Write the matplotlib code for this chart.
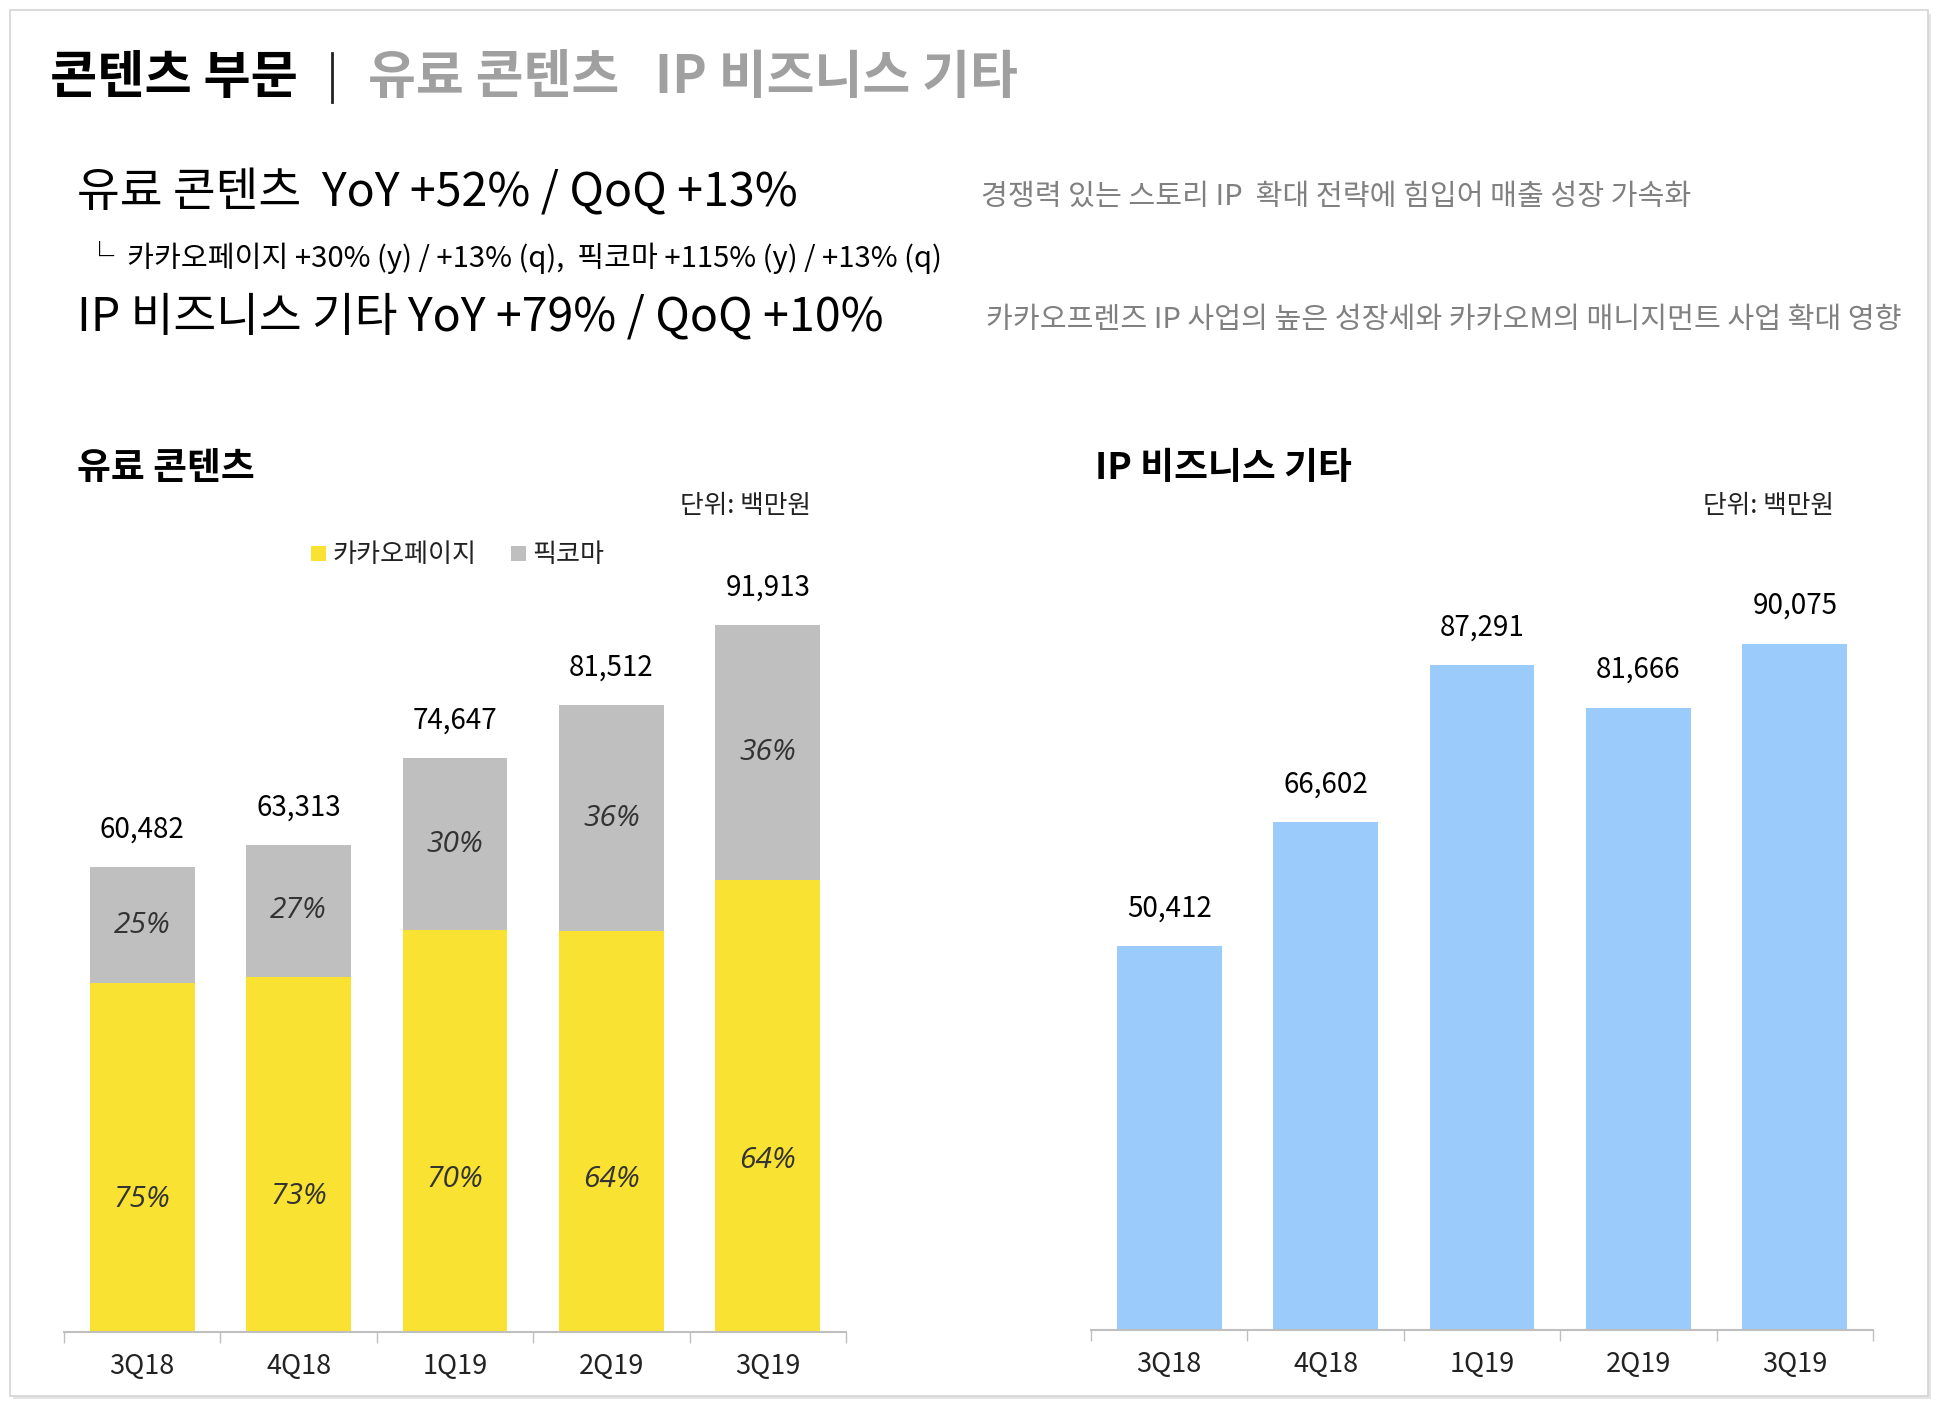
import matplotlib.pyplot as plt
from matplotlib.patches import Rectangle

plt.rcParams['font.family'] = ['Noto Sans CJK KR', 'DejaVu Sans']

# data
quarters = ['3Q18', '4Q18', '1Q19', '2Q19', '3Q19']
paid_total = [60482, 63313, 74647, 81512, 91913]
kakaopage_pct = [75, 73, 70, 64, 64]
piccoma_pct = [25, 27, 30, 36, 36]
ip_biz = [50412, 66602, 87291, 81666, 90075]

kakaopage = [t * p / 100 for t, p in zip(paid_total, kakaopage_pct)]
piccoma = [t - k for t, k in zip(paid_total, kakaopage)]

YELLOW = '#F9E232'
GRAY = '#BFBFBF'
BLUE = '#9BCBFB'
ITALIC = ['Open Sans', 'DejaVu Sans']

W, H = 1938, 1404
fig = plt.figure(figsize=(W / 100, H / 100), dpi=100)


def fx(x):
    return x / W


def fy(y):
    return 1 - y / H


def txt(x, y, s, **kw):
    fig.text(fx(x), fy(y), s, va='center', ha=kw.pop('ha', 'left'), **kw)


# frame
fig.patches.append(Rectangle((fx(13), fy(1399)), fx(1918), 1385 / H, transform=fig.transFigure,
                             facecolor='#e4e4e4', edgecolor='none', zorder=-2))
fig.patches.append(Rectangle((fx(10), fy(1396)), fx(1918), 1386 / H, transform=fig.transFigure,
                             facecolor='white', edgecolor='#d4d4d4', lw=1.2, zorder=-1))

# header
txt(50, 77, '콘텐츠 부문', fontsize=37, fontweight='bold', color='black')
fig.lines.append(plt.Line2D([fx(332), fx(332)], [fy(53), fy(102)], transform=fig.transFigure,
                            color='#222222', lw=2))
txt(368, 77, '유료 콘텐츠   IP 비즈니스 기타', fontsize=37.5, fontweight='bold', color='#A0A0A0')

txt(77, 193, '유료 콘텐츠  YoY +52% / QoQ +13%', fontsize=33.5, fontweight='light', color='black')
txt(85, 258, '└  카카오페이지 +30% (y) / +13% (q),  픽코마 +115% (y) / +13% (q)',
    fontsize=21, fontweight='light', color='black')
txt(77, 317, 'IP 비즈니스 기타 YoY +79% / QoQ +10%', fontsize=33.5, fontweight='light', color='black')

txt(981, 197, '경쟁력 있는 스토리 IP  확대 전략에 힘입어 매출 성장 가속화', fontsize=21,
    fontweight='light', color='#808080')
txt(986, 320, '카카오프렌즈 IP 사업의 높은 성장세와 카카오M의 매니지먼트 사업 확대 영향', fontsize=21,
    fontweight='light', color='#808080')

# subtitles
txt(77, 469, '유료 콘텐츠', fontsize=26.5, fontweight='bold', color='black')
txt(1095, 469, 'IP 비즈니스 기타', fontsize=26.5, fontweight='bold', color='black')
txt(811, 506, '단위: 백만원', fontsize=18.5, ha='right', color='#222222')
txt(1834, 506, '단위: 백만원', fontsize=18.5, ha='right', color='#222222')

# legend
fig.patches.append(Rectangle((fx(311), fy(561)), 15 / W, 15 / H, transform=fig.transFigure,
                             facecolor=YELLOW, edgecolor='none'))
txt(332, 554, '카카오페이지', fontsize=18.8, color='#222222')
fig.patches.append(Rectangle((fx(511), fy(561)), 15 / W, 15 / H, transform=fig.transFigure,
                             facecolor=GRAY, edgecolor='none'))
txt(532, 554, '픽코마', fontsize=18.8, color='#222222')


def setup(ax):
    ax.set_xlim(-0.5, 4.5)
    for s in ['top', 'right', 'left']:
        ax.spines[s].set_visible(False)
    ax.spines['bottom'].set_color('#BFBFBF')
    ax.spines['bottom'].set_linewidth(1.5)
    ax.set_yticks([])
    ax.set_xticks([i - 0.5 for i in range(6)], minor=False)
    ax.set_xticklabels([])
    ax.tick_params(axis='x', which='major', length=8, color='#BFBFBF', width=1)
    ax.set_xticks(range(5), minor=True)
    ax.set_xticklabels(quarters, minor=True, fontsize=19.5, color='#222222')
    ax.tick_params(axis='x', which='minor', length=0, pad=15)
    ax.patch.set_alpha(0)


x = range(5)

# left chart
ax1 = fig.add_axes([fx(64), fy(1332), (846 - 64) / W, (1332 - 440) / H])
setup(ax1)
ax1.set_ylim(0, (1332 - 440) / (706.6 / 91913))
ax1.bar(x, kakaopage, width=0.67, color=YELLOW)
ax1.bar(x, piccoma, width=0.67, bottom=kakaopage, color=GRAY)
for i in x:
    ax1.annotate(f'{paid_total[i]:,}', (i, paid_total[i]), xytext=(0, 27), textcoords='offset points',
                 ha='center', va='center', fontsize=20, color='black')
    ax1.text(i, kakaopage[i] * 0.38, f'{kakaopage_pct[i]}%', ha='center', va='center',
             fontsize=21.5, style='italic', family=ITALIC, color='#333333')
    ax1.text(i, kakaopage[i] + piccoma[i] * 0.5, f'{piccoma_pct[i]}%', ha='center', va='center',
             fontsize=21.5, style='italic', family=ITALIC, color='#333333')

# right chart
ax2 = fig.add_axes([fx(1091), fy(1330), (1873 - 1091) / W, (1330 - 440) / H])
setup(ax2)
ax2.set_ylim(0, (1330 - 440) / (686.5 / 90075))
ax2.bar(x, ip_biz, width=0.67, color=BLUE)
for i in x:
    ax2.annotate(f'{ip_biz[i]:,}', (i, ip_biz[i]), xytext=(0, 27), textcoords='offset points',
                 ha='center', va='center', fontsize=20, color='black')

fig.savefig('out.png', dpi=100)
